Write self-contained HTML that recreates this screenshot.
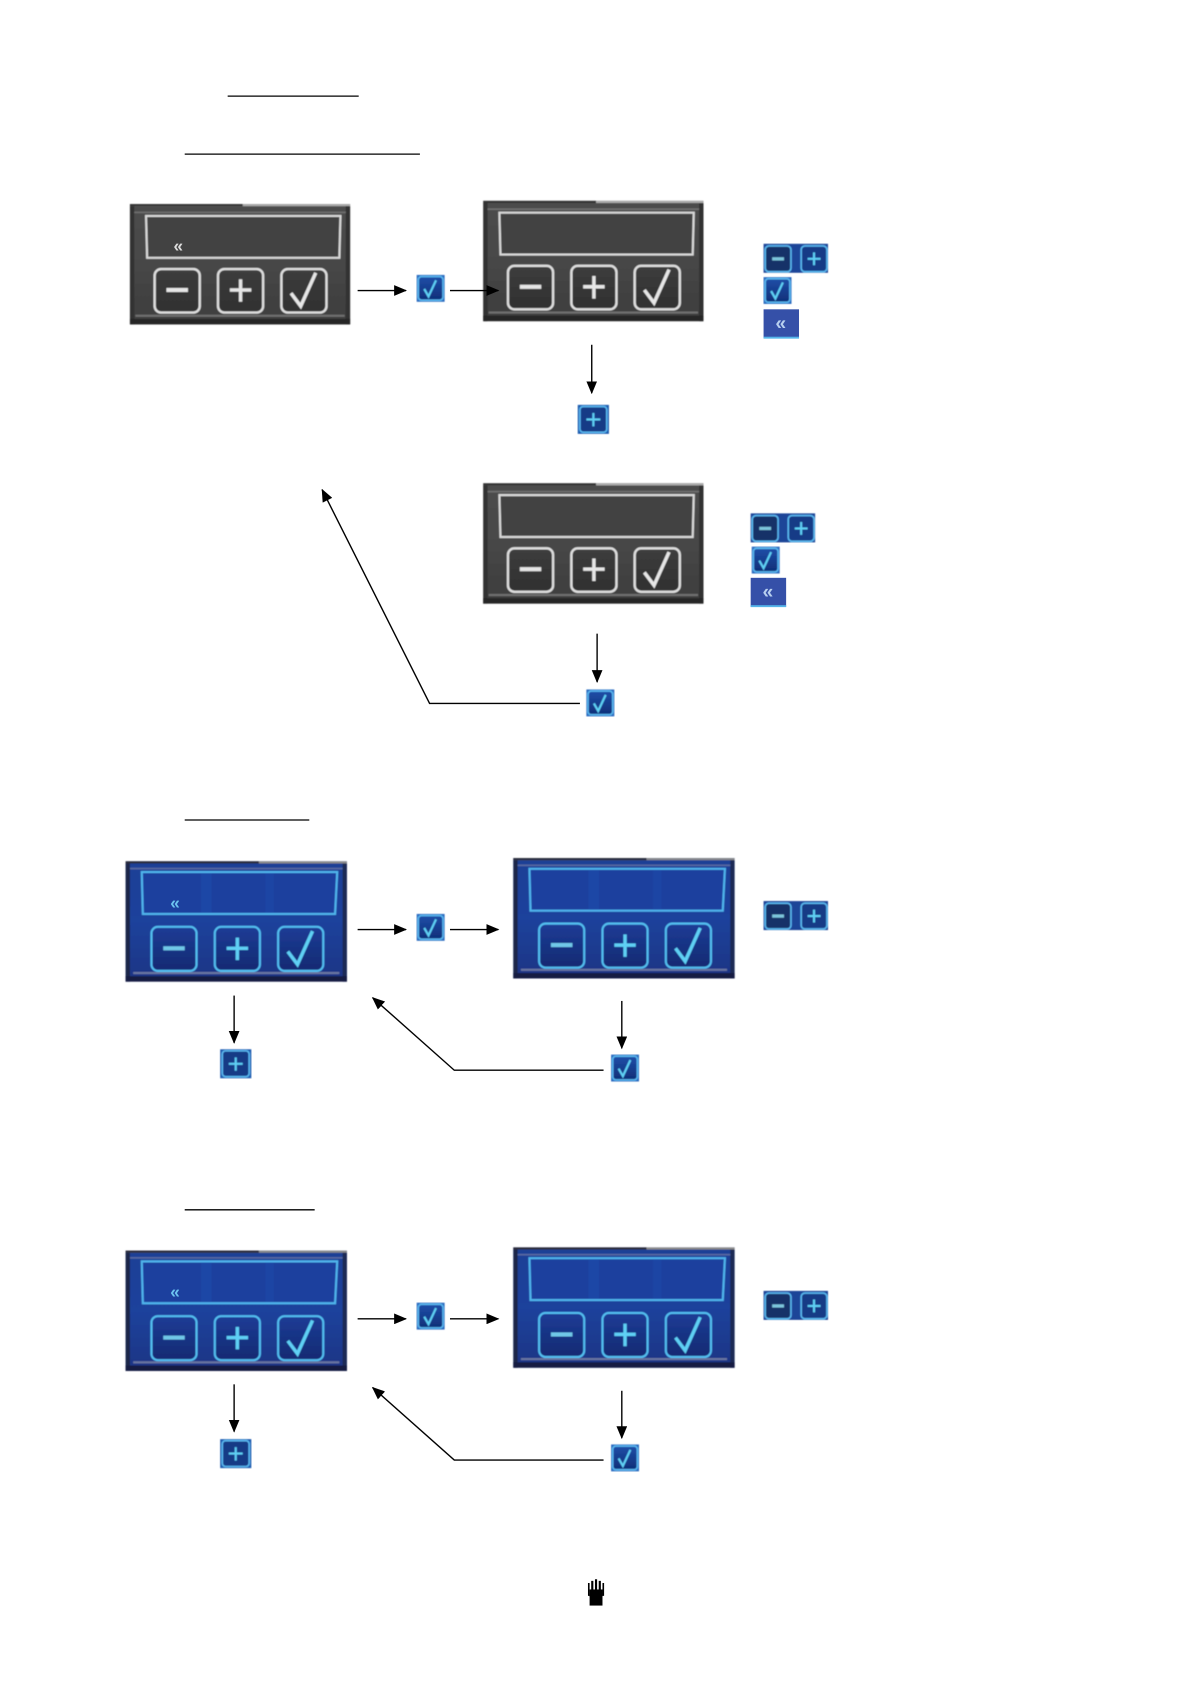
<!DOCTYPE html>
<html><head><meta charset="utf-8"><style>html,body{margin:0;padding:0;background:#fff}svg{display:block}</style></head>
<body>
<svg xmlns="http://www.w3.org/2000/svg" width="1191" height="1684" viewBox="0 0 1109 1568">
<defs>
<filter id="s" x="-2%" y="-2%" width="104%" height="104%"><feGaussianBlur stdDeviation="0.45"/></filter>
<linearGradient id="gg" x1="0" y1="0" x2="0" y2="1"><stop offset="0" stop-color="#4d4d4d"/><stop offset="0.45" stop-color="#484848"/><stop offset="1" stop-color="#3d3d3d"/></linearGradient>
<linearGradient id="bg" x1="0" y1="0" x2="0" y2="1"><stop offset="0" stop-color="#1c3f96"/><stop offset="0.5" stop-color="#1d429c"/><stop offset="1" stop-color="#1a3484"/></linearGradient>
<linearGradient id="gb" x1="0" y1="0" x2="0" y2="1"><stop offset="0" stop-color="#3d3d3d"/><stop offset="1" stop-color="#303030"/></linearGradient>
<linearGradient id="bb" x1="0" y1="0" x2="0" y2="1"><stop offset="0" stop-color="#1c3c96"/><stop offset="1" stop-color="#152a72"/></linearGradient>
<linearGradient id="ib" x1="0" y1="0" x2="0" y2="1"><stop offset="0" stop-color="#1f4ea8"/><stop offset="1" stop-color="#0f2f78"/></linearGradient>

<g id="gray" filter="url(#s)">
<rect width="205" height="112" fill="url(#gg)"/>
<rect width="205" height="2" y="0" fill="#aaa"/><rect width="105" height="2" fill="#333"/>
<rect x="0" y="2" width="4" height="110" fill="#303030"/><rect x="201" y="2" width="4" height="110" fill="#303030"/>
<rect y="107" width="205" height="5" fill="#262626"/><rect x="5" y="103" width="195" height="2" fill="#707070"/>
<rect x="4" y="7" width="197" height="1.500" fill="#707070"/>
<path d="M15 11H196L195 50H16Z" fill="#424242" stroke="#d8d8d8" stroke-width="2"/>
<g fill="url(#gb)" stroke="#dedede" stroke-width="2.200">
<rect x="23" y="60.500" width="42" height="40.500" rx="6"/><rect x="82" y="60.500" width="42" height="40.500" rx="6"/><rect x="141" y="60.500" width="42" height="40.500" rx="6"/></g>
<g fill="none" stroke="#e6e6e6" stroke-width="3.200">
<path d="M34 80H54" stroke-width="3.800"/><path d="M93 80H113M103 70V91"/><path d="M150 83L159 95L173 64"/></g>
</g>

<g id="blue" filter="url(#s)">
<rect width="206" height="112" fill="url(#bg)"/>
<rect width="206" height="2" fill="#8a8a8a"/><rect width="124" height="2" fill="#2a2a3a"/>
<rect x="0" y="2" width="4" height="110" fill="#1c2648"/><rect x="202" y="2" width="4" height="110" fill="#1a2a55"/>
<rect y="107" width="206" height="5" fill="#161e42"/><rect x="7" y="103" width="192" height="2" fill="#6a76a0"/>
<rect x="4" y="6" width="198" height="1.500" fill="#5a6aa0"/>
<path d="M15 10H197L195 49H16Z" fill="#1b3f9e" stroke="#50b4ec" stroke-width="2"/>
<rect x="70" y="11" width="10" height="37" fill="#2a5cc0" opacity=".25"/><rect x="130" y="11" width="8" height="37" fill="#2a5cc0" opacity=".18"/>
<g fill="url(#bb)" stroke="#52bdf0" stroke-width="2">
<rect x="24" y="61" width="42" height="41" rx="6"/><rect x="83" y="61" width="42" height="41" rx="6"/><rect x="142" y="61" width="42" height="41" rx="6"/></g>
<g fill="none" stroke="#5fd0f5" stroke-width="3.200">
<path d="M35 81H55" stroke-width="3.800" stroke="#70c8e8"/><path d="M94 81H114M104 71V92"/><path d="M151 84L160 96L174 65"/></g>
</g>

<g id="icheck" filter="url(#s)"><rect width="26" height="25" fill="#2a6bc0"/><rect x="1.500" y="1.500" width="23" height="22" rx="3" fill="url(#ib)" stroke="#5ab8f0" stroke-width="1.500"/><path d="M7 13L11 20L18 5" fill="none" stroke="#5fd0f5" stroke-width="2"/></g>
<g id="iplus" filter="url(#s)"><rect width="29" height="27" fill="#1f5cb0"/><rect x="2" y="1.500" width="25" height="24" rx="3" fill="#123a86" stroke="#5ab8f0" stroke-width="1.500"/><path d="M8 13.500H21M14.500 7.500V20" fill="none" stroke="#5fd0f5" stroke-width="2"/></g>
<g id="ipm" filter="url(#s)"><rect width="60" height="27" fill="#1d4598"/><rect x="1.500" y="2" width="24" height="24" rx="3.500" fill="#183268" stroke="#5ab8f0" stroke-width="1.500"/><rect x="35" y="2" width="24" height="24" rx="3.500" fill="#123a86" stroke="#5ab8f0" stroke-width="1.500"/><path d="M8 14H19" stroke="#7cc6dc" stroke-width="3"/><path d="M41 14H53M47 8V20" fill="none" stroke="#5fd0f5" stroke-width="2"/></g>
<g id="ichev"><rect width="33" height="27" fill="#3550a8"/><rect y="25.500" width="33" height="1.800" fill="#55b5ea"/><text x="16" y="19" font-family="Liberation Sans, sans-serif" font-size="18" font-weight="bold" text-anchor="middle" fill="#b8d0f0">«</text></g>

<marker id="a" markerWidth="12" markerHeight="10" refX="11" refY="5" orient="auto" markerUnits="userSpaceOnUse"><path d="M0 0L12 5L0 10Z" fill="#000"/></marker>
</defs>

<g stroke="#000" stroke-width="1.200" fill="none">
<path d="M212 89.500H334M172 143.500H391M172 763.500H288M172 1126.500H293"/>
</g>

<use href="#gray" x="121" y="190"/><use href="#gray" x="450" y="187"/><use href="#gray" x="450" y="450"/>
<use href="#blue" x="117" y="802"/><use href="#blue" x="478" y="799"/><use href="#blue" x="117" y="1164.500"/><use href="#blue" x="478" y="1161.500"/>

<text x="166" y="234" font-family="Liberation Sans, sans-serif" font-size="16" font-weight="bold" text-anchor="middle" fill="#ddd">«</text>
<text x="163" y="846" font-family="Liberation Sans, sans-serif" font-size="16" font-weight="bold" text-anchor="middle" fill="#6cc4f0">«</text>
<text x="163" y="1208" font-family="Liberation Sans, sans-serif" font-size="16" font-weight="bold" text-anchor="middle" fill="#6cc4f0">«</text>

<g stroke="#000" stroke-width="1.300" fill="none">
<path d="M333 270.500H378" marker-end="url(#a)"/><path d="M419 270.500H464" marker-end="url(#a)"/>
<path d="M551 321V366" marker-end="url(#a)"/><path d="M556 590V635" marker-end="url(#a)"/>
<path d="M540 655H400L300 456" marker-end="url(#a)"/>
<path d="M333 865.500H378" marker-end="url(#a)"/><path d="M419 865.500H464" marker-end="url(#a)"/>
<path d="M218 927V971" marker-end="url(#a)"/><path d="M579 932V976" marker-end="url(#a)"/>
<path d="M562 996.500H423L347 929" marker-end="url(#a)"/>
<path d="M333 1228H378" marker-end="url(#a)"/><path d="M419 1228H464" marker-end="url(#a)"/>
<path d="M218 1289V1333" marker-end="url(#a)"/><path d="M579 1295V1339" marker-end="url(#a)"/>
<path d="M562 1359.500H423L347 1292" marker-end="url(#a)"/>
</g>

<use href="#icheck" x="388" y="256"/><use href="#iplus" x="538" y="377"/>
<use href="#ipm" x="711" y="227"/><use href="#icheck" x="711" y="258"/><use href="#ichev" x="711" y="288"/>
<use href="#ipm" x="699" y="478"/><use href="#icheck" x="700" y="509"/><use href="#ichev" x="699" y="538"/>
<use href="#icheck" x="546" y="642"/>
<use href="#icheck" x="388" y="851"/><use href="#ipm" x="711" y="839"/><use href="#iplus" x="205" y="977"/><use href="#icheck" x="569" y="982"/>
<use href="#icheck" x="388" y="1213"/><use href="#ipm" x="711" y="1202"/><use href="#iplus" x="205" y="1340"/><use href="#icheck" x="569" y="1345"/>

<g fill="#000"><path d="M549 1485H561V1495H549Z"/><path d="M547.500 1474H549V1486H547.500ZM550.500 1472H552.500V1486H550.500ZM554 1470.500H556V1486H554ZM557.500 1472H559.500V1486H557.500ZM561 1474H562.500V1486H561Z"/><path d="M549 1480H561V1487H549Z"/></g>
</svg>
</body></html>
